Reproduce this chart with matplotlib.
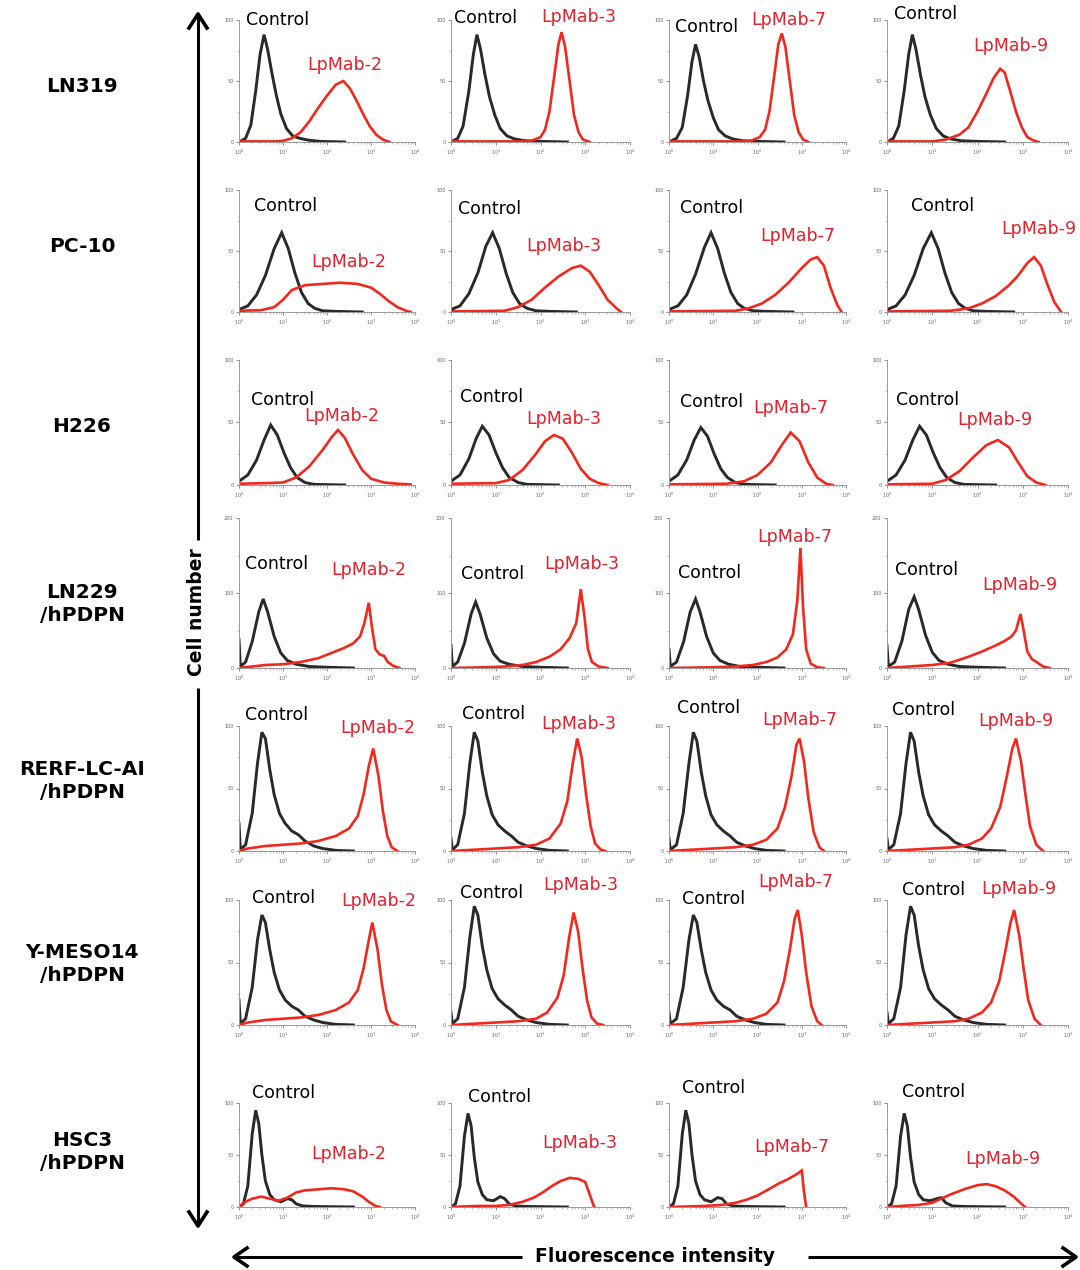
import matplotlib
matplotlib.use("Agg")
import matplotlib.pyplot as plt
from matplotlib.ticker import FixedLocator, NullFormatter

W, H = 1080, 1270

# ---- data (x in log10 decades of fluorescence, y in cell counts) ----
cell_lines = ["LN319", "PC-10", "H226", "LN229\n/hPDPN", "RERF-LC-AI\n/hPDPN",
              "Y-MESO14\n/hPDPN", "HSC3\n/hPDPN"]
antibodies = ["LpMab-2", "LpMab-3", "LpMab-7", "LpMab-9"]
y_max = [100, 100, 100, 200, 100, 100, 100]
x_ticks = [1, 10, 100, 1000, 10000]
x_ticklabels = ["$10^0$", "$10^1$", "$10^2$", "$10^3$", "$10^4$"]

ln319_control = [
    [(0, 0), (0.15, 3), (0.27, 14), (0.38, 42), (0.48, 72), (0.57, 88), (0.65, 76), (0.75, 56), (0.85, 38),
     (0.95, 23), (1.08, 11), (1.22, 5), (1.38, 3), (1.58, 1.5), (1.85, 0.5), (2.4, 0)],
    [(0, 0), (0.15, 3), (0.27, 13), (0.4, 42), (0.5, 72), (0.58, 88), (0.66, 76), (0.76, 55), (0.86, 37),
     (0.98, 22), (1.1, 11), (1.25, 5), (1.42, 2.5), (1.65, 1), (2.0, 0.5), (2.6, 0)],
    [(0, 0), (0.17, 3), (0.3, 12), (0.42, 38), (0.52, 66), (0.6, 80), (0.68, 70), (0.78, 50), (0.88, 34),
     (1.0, 20), (1.12, 10), (1.27, 5), (1.44, 2.5), (1.66, 1), (2.0, 0.5), (2.6, 0)],
    [(0, 0), (0.14, 3), (0.26, 13), (0.38, 42), (0.48, 72), (0.56, 88), (0.64, 76), (0.74, 55), (0.84, 37),
     (0.96, 22), (1.09, 11), (1.24, 5), (1.41, 2.5), (1.64, 1), (2.0, 0.5), (2.6, 0)],
]
ln319_antibody = [
    [(0, 0.5), (0.8, 0.5), (1.0, 1), (1.2, 3), (1.4, 8), (1.6, 17), (1.8, 28), (2.0, 38), (2.2, 47),
     (2.37, 50), (2.52, 44), (2.67, 34), (2.82, 23), (2.97, 13), (3.12, 6), (3.27, 2), (3.42, 0)],
    [(0, 0.5), (1.5, 0.5), (1.8, 1), (2.0, 4), (2.1, 10), (2.2, 25), (2.3, 52), (2.4, 80), (2.47, 90),
     (2.55, 78), (2.65, 50), (2.75, 22), (2.85, 8), (2.95, 2), (3.1, 0)],
    [(0, 0.5), (1.5, 0.5), (1.85, 1), (2.05, 4), (2.17, 10), (2.27, 25), (2.37, 52), (2.47, 80), (2.55, 89),
     (2.63, 78), (2.73, 50), (2.83, 22), (2.93, 8), (3.03, 2), (3.15, 0)],
    [(0, 0.5), (1.0, 0.5), (1.3, 2), (1.6, 6), (1.8, 12), (2.0, 25), (2.2, 40), (2.35, 52), (2.5, 60),
     (2.6, 57), (2.72, 42), (2.85, 25), (2.98, 12), (3.1, 4), (3.25, 1), (3.35, 0)],
]

pc10_control = [
    [(0, 2), (0.2, 5), (0.4, 14), (0.6, 30), (0.8, 52), (0.97, 65), (1.12, 52), (1.27, 32), (1.42, 16),
     (1.57, 7), (1.72, 3), (1.9, 1), (2.2, 0.5), (2.8, 0)],
    [(0, 2), (0.2, 5), (0.4, 15), (0.6, 32), (0.78, 54), (0.93, 65), (1.08, 52), (1.23, 32), (1.38, 16),
     (1.53, 7), (1.7, 3), (1.9, 1), (2.2, 0.5), (2.8, 0)],
    [(0, 2), (0.2, 5), (0.4, 14), (0.6, 31), (0.8, 53), (0.95, 65), (1.1, 52), (1.25, 32), (1.4, 16),
     (1.55, 7), (1.7, 3), (1.9, 1), (2.2, 0.5), (2.8, 0)],
    [(0, 2), (0.2, 5), (0.4, 14), (0.6, 30), (0.8, 52), (0.98, 65), (1.13, 52), (1.28, 32), (1.43, 16),
     (1.58, 7), (1.73, 3), (1.9, 1), (2.2, 0.5), (2.8, 0)],
]
pc10_antibody = [
    [(0, 1), (0.5, 1.5), (0.8, 4), (1.0, 10), (1.2, 18), (1.5, 22), (1.9, 23), (2.3, 24), (2.7, 23),
     (3.0, 20), (3.2, 15), (3.4, 9), (3.6, 4), (3.8, 1), (3.9, 0)],
    [(0, 0.5), (1.2, 1), (1.5, 4), (1.8, 10), (2.1, 20), (2.4, 29), (2.7, 36), (2.9, 38), (3.1, 33),
     (3.3, 22), (3.5, 10), (3.7, 3), (3.8, 0)],
    [(0, 0.5), (1.5, 1), (1.8, 3), (2.1, 7), (2.4, 14), (2.7, 24), (3.0, 36), (3.2, 43), (3.35, 45),
     (3.5, 38), (3.65, 20), (3.8, 6), (3.9, 0)],
    [(0, 0.5), (1.4, 1), (1.8, 3), (2.1, 7), (2.4, 13), (2.7, 22), (2.9, 30), (3.1, 40), (3.25, 45),
     (3.4, 38), (3.55, 22), (3.7, 8), (3.85, 0)],
]

h226_control = [
    [(0, 3), (0.2, 8), (0.4, 20), (0.57, 36), (0.72, 48), (0.87, 40), (1.02, 26), (1.17, 14), (1.32, 6),
     (1.5, 2), (1.7, 0.5), (2.4, 0)],
    [(0, 3), (0.2, 8), (0.4, 21), (0.56, 37), (0.7, 47), (0.85, 40), (1.0, 26), (1.15, 14), (1.3, 6),
     (1.5, 2), (1.7, 0.5), (2.4, 0)],
    [(0, 3), (0.2, 8), (0.4, 20), (0.57, 36), (0.72, 46), (0.87, 39), (1.02, 25), (1.17, 13), (1.32, 6),
     (1.5, 2), (1.7, 0.5), (2.4, 0)],
    [(0, 3), (0.2, 8), (0.4, 20), (0.57, 36), (0.72, 47), (0.87, 40), (1.02, 26), (1.17, 14), (1.32, 6),
     (1.5, 2), (1.7, 0.5), (2.4, 0)],
]
h226_antibody = [
    [(0, 1), (0.6, 1.5), (1.0, 2), (1.3, 6), (1.6, 15), (1.9, 28), (2.1, 38), (2.25, 44), (2.4, 38),
     (2.6, 24), (2.8, 12), (3.0, 5), (3.3, 2), (3.6, 1), (3.9, 0.5)],
    [(0, 1), (1.0, 1.5), (1.3, 4), (1.6, 12), (1.9, 25), (2.1, 35), (2.3, 40), (2.5, 37), (2.7, 26),
     (2.9, 13), (3.1, 5), (3.3, 1.5), (3.5, 0)],
    [(0, 0.5), (1.3, 1), (1.7, 3), (2.0, 8), (2.3, 18), (2.55, 32), (2.75, 42), (2.95, 35), (3.15, 18),
     (3.35, 6), (3.55, 1), (3.7, 0)],
    [(0, 0.5), (1.0, 1), (1.3, 4), (1.6, 11), (1.9, 22), (2.2, 32), (2.45, 36), (2.7, 30), (2.9, 18),
     (3.1, 7), (3.3, 2), (3.5, 0)],
]

ln229_control = [
    [(0, 38), (0.03, 2), (0.15, 8), (0.3, 35), (0.45, 75), (0.55, 92), (0.65, 75), (0.8, 42), (0.95, 20),
     (1.1, 10), (1.3, 5), (1.6, 2), (2.0, 1), (2.6, 0)],
    [(0, 30), (0.03, 2), (0.15, 8), (0.3, 33), (0.45, 72), (0.55, 88), (0.65, 72), (0.8, 40), (0.95, 19),
     (1.1, 9), (1.3, 5), (1.6, 2), (2.0, 1), (2.6, 0)],
    [(0, 25), (0.03, 2), (0.17, 8), (0.33, 35), (0.48, 75), (0.6, 92), (0.7, 75), (0.85, 42), (1.0, 20),
     (1.15, 10), (1.35, 5), (1.6, 2), (2.0, 1), (2.6, 0)],
    [(0, 30), (0.03, 2), (0.17, 8), (0.33, 36), (0.48, 78), (0.6, 95), (0.7, 78), (0.85, 44), (1.0, 21),
     (1.15, 10), (1.35, 5), (1.6, 2), (2.0, 1), (2.6, 0)],
]
ln229_antibody = [
    [(0, 0), (0.3, 2), (0.6, 4), (1.0, 5), (1.4, 8), (1.8, 13), (2.1, 20), (2.4, 27), (2.6, 33),
     (2.75, 42), (2.85, 60), (2.95, 87), (3.02, 55), (3.1, 25), (3.2, 18), (3.3, 16), (3.38, 8),
     (3.5, 3), (3.65, 0)],
    [(0, 0), (0.8, 1), (1.2, 2), (1.6, 4), (1.9, 8), (2.2, 15), (2.45, 25), (2.65, 40), (2.8, 60),
     (2.9, 105), (2.98, 70), (3.06, 25), (3.15, 8), (3.3, 2), (3.5, 0)],
    [(0, 0), (1.0, 1), (1.5, 2), (1.9, 4), (2.2, 8), (2.45, 14), (2.65, 25), (2.8, 45), (2.9, 90),
     (2.97, 160), (3.03, 80), (3.1, 25), (3.2, 6), (3.35, 1), (3.5, 0)],
    [(0, 0), (0.5, 2), (1.0, 4), (1.4, 7), (1.8, 15), (2.1, 22), (2.4, 30), (2.6, 36), (2.75, 42),
     (2.85, 50), (2.95, 72), (3.02, 50), (3.1, 22), (3.2, 12), (3.3, 8), (3.45, 2), (3.6, 0)],
]

rerf_control = [
    [(0, 22), (0.03, 1), (0.15, 5), (0.3, 30), (0.42, 70), (0.52, 95), (0.6, 90), (0.7, 65), (0.8, 45),
     (0.92, 30), (1.05, 22), (1.2, 16), (1.35, 13), (1.5, 8), (1.7, 4), (1.9, 2), (2.2, 0.5), (2.6, 0)],
    [(0, 10), (0.03, 1), (0.15, 5), (0.3, 30), (0.42, 70), (0.52, 95), (0.6, 88), (0.7, 63), (0.8, 44),
     (0.92, 29), (1.05, 21), (1.2, 16), (1.35, 12), (1.5, 7), (1.7, 4), (1.9, 2), (2.2, 0.5), (2.6, 0)],
    [(0, 10), (0.03, 1), (0.17, 5), (0.32, 30), (0.45, 70), (0.55, 95), (0.63, 88), (0.73, 63), (0.83, 44),
     (0.95, 29), (1.08, 21), (1.23, 16), (1.38, 12), (1.53, 7), (1.73, 4), (1.93, 2), (2.2, 0.5), (2.6, 0)],
    [(0, 10), (0.03, 1), (0.15, 5), (0.3, 30), (0.42, 70), (0.52, 95), (0.6, 88), (0.7, 63), (0.8, 44),
     (0.92, 29), (1.05, 21), (1.2, 16), (1.35, 12), (1.5, 7), (1.7, 4), (1.9, 2), (2.2, 0.5), (2.6, 0)],
]
rerf_antibody = [
    [(0, 0), (0.2, 2), (0.6, 4), (1.0, 5), (1.4, 6), (1.8, 8), (2.2, 12), (2.5, 18), (2.7, 28),
     (2.83, 45), (2.95, 68), (3.05, 82), (3.17, 60), (3.27, 32), (3.37, 12), (3.47, 3), (3.6, 0)],
    [(0, 0), (0.5, 1), (1.0, 2), (1.5, 3), (1.9, 5), (2.2, 10), (2.45, 22), (2.6, 40), (2.72, 70),
     (2.82, 90), (2.92, 75), (3.02, 45), (3.12, 20), (3.22, 6), (3.35, 1), (3.45, 0)],
    [(0, 0), (0.5, 1), (1.0, 2), (1.5, 3), (1.9, 5), (2.2, 9), (2.45, 18), (2.62, 35), (2.77, 60),
     (2.88, 85), (2.95, 90), (3.05, 72), (3.15, 42), (3.27, 15), (3.4, 3), (3.5, 0)],
    [(0, 0), (0.5, 1), (1.0, 2), (1.5, 3), (1.8, 5), (2.1, 10), (2.3, 18), (2.5, 35), (2.65, 60),
     (2.77, 82), (2.85, 90), (2.96, 72), (3.06, 45), (3.16, 20), (3.3, 5), (3.45, 0)],
]

ymeso_control = [
    [(0, 20), (0.03, 1), (0.15, 5), (0.3, 30), (0.42, 68), (0.52, 88), (0.6, 82), (0.7, 60), (0.8, 42),
     (0.92, 28), (1.05, 20), (1.2, 15), (1.35, 12), (1.5, 7), (1.7, 4), (1.9, 2), (2.2, 0.5), (2.6, 0)],
    [(0, 10), (0.03, 1), (0.15, 5), (0.3, 30), (0.42, 70), (0.52, 95), (0.6, 88), (0.7, 63), (0.8, 44),
     (0.92, 29), (1.05, 21), (1.2, 16), (1.35, 12), (1.5, 7), (1.7, 4), (1.9, 2), (2.2, 0.5), (2.6, 0)],
    [(0, 10), (0.03, 1), (0.17, 5), (0.32, 30), (0.45, 68), (0.55, 88), (0.63, 82), (0.73, 60), (0.83, 42),
     (0.95, 28), (1.08, 20), (1.23, 15), (1.38, 12), (1.53, 7), (1.73, 4), (1.93, 2), (2.2, 0.5), (2.6, 0)],
    [(0, 10), (0.03, 1), (0.15, 5), (0.3, 30), (0.42, 72), (0.52, 95), (0.6, 88), (0.7, 63), (0.8, 44),
     (0.92, 29), (1.05, 21), (1.2, 16), (1.35, 12), (1.5, 7), (1.7, 4), (1.9, 2), (2.2, 0.5), (2.6, 0)],
]
ymeso_antibody = [
    [(0, 0), (0.2, 2), (0.6, 4), (1.0, 5), (1.4, 6), (1.8, 8), (2.2, 12), (2.5, 18), (2.7, 28),
     (2.83, 45), (2.95, 68), (3.03, 82), (3.15, 60), (3.25, 32), (3.35, 12), (3.45, 3), (3.6, 0)],
    [(0, 0), (0.5, 1), (1.0, 2), (1.5, 3), (1.9, 5), (2.15, 10), (2.38, 22), (2.52, 40), (2.64, 70),
     (2.74, 90), (2.84, 75), (2.94, 45), (3.04, 20), (3.14, 6), (3.27, 1), (3.4, 0)],
    [(0, 0), (0.5, 1), (1.0, 2), (1.5, 3), (1.9, 5), (2.2, 9), (2.45, 18), (2.6, 35), (2.73, 60),
     (2.84, 85), (2.91, 92), (3.0, 72), (3.1, 42), (3.22, 15), (3.35, 3), (3.45, 0)],
    [(0, 0), (0.5, 1), (1.0, 2), (1.5, 3), (1.8, 5), (2.1, 10), (2.3, 18), (2.48, 35), (2.62, 60),
     (2.73, 82), (2.81, 92), (2.92, 72), (3.02, 45), (3.12, 20), (3.26, 5), (3.4, 0)],
]

hsc3_control = [
    [(0, 0), (0.1, 3), (0.2, 20), (0.3, 70), (0.38, 93), (0.45, 80), (0.52, 50), (0.6, 25), (0.7, 12),
     (0.8, 7), (0.95, 5), (1.1, 8), (1.2, 7), (1.3, 3), (1.45, 1), (1.7, 0.5), (2.6, 0)],
    [(0, 0), (0.1, 3), (0.2, 20), (0.3, 68), (0.38, 90), (0.45, 78), (0.52, 48), (0.6, 24), (0.7, 12),
     (0.8, 7), (0.95, 6), (1.1, 10), (1.2, 8), (1.3, 3), (1.45, 1), (1.7, 0.5), (2.6, 0)],
    [(0, 0), (0.1, 3), (0.2, 20), (0.3, 70), (0.38, 93), (0.45, 80), (0.52, 50), (0.6, 25), (0.7, 12),
     (0.8, 7), (0.95, 5), (1.1, 9), (1.2, 8), (1.3, 3), (1.45, 1), (1.7, 0.5), (2.6, 0)],
    [(0, 0), (0.1, 3), (0.2, 20), (0.3, 68), (0.38, 90), (0.45, 78), (0.52, 48), (0.6, 24), (0.7, 12),
     (0.8, 7), (0.95, 6), (1.1, 8), (1.2, 9), (1.3, 4), (1.45, 1), (1.7, 0.5), (2.6, 0)],
]
hsc3_antibody = [
    [(0, 0), (0.1, 4), (0.3, 8), (0.5, 10), (0.7, 8), (0.9, 6), (1.1, 9), (1.3, 14), (1.5, 16),
     (1.8, 17), (2.1, 18), (2.4, 17), (2.6, 15), (2.8, 10), (2.95, 5), (3.1, 1), (3.2, 0)],
    [(0, 0), (0.6, 1), (1.0, 1), (1.3, 2), (1.6, 5), (1.85, 9), (2.05, 14), (2.25, 20), (2.45, 25),
     (2.65, 28), (2.85, 27), (3.0, 24), (3.1, 12), (3.2, 0)],
    [(0, 0), (0.8, 1), (1.2, 2), (1.5, 4), (1.75, 7), (2.0, 11), (2.25, 17), (2.5, 23), (2.7, 27),
     (2.9, 32), (3.0, 35), (3.05, 15), (3.1, 0)],
    [(0, 0), (0.3, 1), (0.7, 2), (1.0, 4), (1.2, 8), (1.4, 12), (1.7, 17), (2.0, 21), (2.2, 22),
     (2.4, 20), (2.6, 16), (2.8, 10), (2.95, 4), (3.05, 0)],
]

control_curves = [ln319_control, pc10_control, h226_control, ln229_control,
                  rerf_control, ymeso_control, hsc3_control]
antibody_curves = [ln319_antibody, pc10_antibody, h226_antibody, ln229_antibody,
                   rerf_antibody, ymeso_antibody, hsc3_antibody]

# ---- layout (pixels) ----
row_top = [20, 190, 360, 518, 726, 900, 1103]
row_base = [142, 312, 485, 668, 851, 1025, 1207]
col_left = [239, 451, 669, 887]
col_right = [415, 630, 846, 1068]
row_label_y = [87, 247, 427, 604, 781, 964, 1152]

ctrl_label_px = [
    [(278, 20), (486, 18), (707, 27), (926, 14)],
    [(286, 206), (490, 209), (712, 208), (943, 206)],
    [(283, 400), (492, 397), (712, 402), (928, 400)],
    [(277, 564), (493, 574), (710, 573), (927, 570)],
    [(277, 715), (494, 714), (709, 708), (924, 710)],
    [(284, 898), (492, 893), (714, 899), (934, 890)],
    [(284, 1093), (500, 1097), (714, 1088), (934, 1092)],
]
ab_label_px = [
    [(345, 65), (579, 17), (789, 20), (1011, 46)],
    [(349, 262), (564, 246), (798, 236), (1039, 229)],
    [(342, 416), (564, 419), (791, 408), (995, 420)],
    [(369, 570), (582, 564), (795, 537), (1020, 585)],
    [(378, 728), (579, 724), (800, 720), (1016, 721)],
    [(379, 901), (581, 885), (796, 882), (1019, 889)],
    [(349, 1154), (580, 1143), (792, 1147), (1003, 1159)],
]

BLACK = "#111111"
RED = "#f0281e"
LABEL_RED = "#e3202b"

fig = plt.figure(figsize=(W / 100, H / 100), dpi=100)
fig.patch.set_facecolor("white")

# overlay for the axis arrows
ov = fig.add_axes([0, 0, 1, 1])
ov.set_xlim(0, W)
ov.set_ylim(H, 0)
ov.axis("off")
lw_arrow = 2.2
ov.plot([198, 198], [16, 540], color="black", lw=lw_arrow, solid_capstyle="butt")
ov.plot([198, 198], [688, 1224], color="black", lw=lw_arrow, solid_capstyle="butt")
ov.plot([189, 198, 207], [28, 14, 28], color="black", lw=2.6)
ov.plot([189, 198, 207], [1212, 1226, 1212], color="black", lw=2.6)
ov.plot([236, 522], [1257, 1257], color="black", lw=lw_arrow, solid_capstyle="butt")
ov.plot([808, 1074], [1257, 1257], color="black", lw=lw_arrow, solid_capstyle="butt")
ov.plot([247, 234, 247], [1248, 1257, 1266], color="black", lw=2.6)
ov.plot([1063, 1076, 1063], [1248, 1257, 1266], color="black", lw=2.6)


def to_fig(x, y):
    return x / W, 1 - y / H


for r in range(7):
    for c in range(4):
        x0, x1 = col_left[c], col_right[c]
        yt, yb = row_top[r], row_base[r]
        ax = fig.add_axes([x0 / W, 1 - yb / H, (x1 - x0) / W, (yb - yt) / H])
        ax.patch.set_alpha(0)
        ctrl = control_curves[r][c]
        ab = antibody_curves[r][c]
        ax.plot([10 ** p[0] for p in ctrl], [p[1] for p in ctrl], color=BLACK, lw=2.1, alpha=0.9,
                solid_joinstyle="miter")
        ax.plot([10 ** p[0] for p in ab], [p[1] for p in ab], color=RED, lw=1.9, solid_joinstyle="miter")
        ax.set_xscale("log")
        ax.set_xlim(1, 1e4)
        ax.set_ylim(0, y_max[r])
        ax.set_xticks(x_ticks)
        ax.set_xticklabels(x_ticklabels)
        ax.xaxis.set_minor_formatter(NullFormatter())
        ym = y_max[r]
        ax.yaxis.set_major_locator(FixedLocator([0, ym / 2, ym]))
        ax.set_yticklabels(["0", str(ym // 2), str(ym)])
        ax.yaxis.set_minor_locator(FixedLocator([ym / 4, 3 * ym / 4]))
        ax.tick_params(which="major", labelsize=3.5, colors="#666666", length=2.5, width=0.5, pad=1.5)
        ax.tick_params(which="minor", colors="#888888", length=1.3, width=0.4)
        for s in ["top", "right"]:
            ax.spines[s].set_visible(False)
        for s in ["left", "bottom"]:
            ax.spines[s].set_color("#999999")
            ax.spines[s].set_linewidth(0.7)

        fx, fy = to_fig(*ctrl_label_px[r][c])
        fig.text(fx, fy, "Control", color="black", fontsize=12.5, ha="center", va="center")
        fx, fy = to_fig(*ab_label_px[r][c])
        fig.text(fx, fy, antibodies[c], color=LABEL_RED, fontsize=12.5, ha="center", va="center")

for r in range(7):
    fx, fy = to_fig(82, row_label_y[r])
    fig.text(fx, fy, cell_lines[r], fontsize=14.5, fontweight="bold", ha="center", va="center",
             linespacing=1.3)

fx, fy = to_fig(196, 612)
fig.text(fx, fy, "Cell number", fontsize=13.5, fontweight="bold", rotation=90, ha="center", va="center")
fx, fy = to_fig(655, 1256)
fig.text(fx, fy, "Fluorescence intensity", fontsize=13.5, fontweight="bold", ha="center", va="center")

fig.savefig("out.png", dpi=100, facecolor="white")
